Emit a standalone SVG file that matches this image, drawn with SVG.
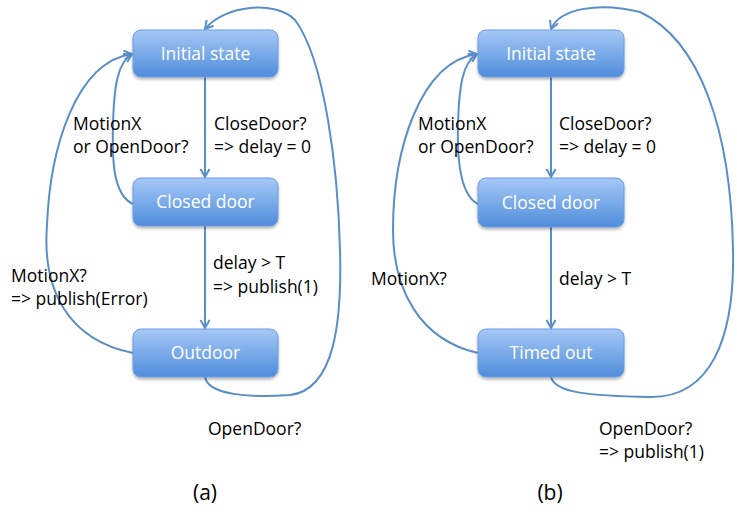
<svg xmlns="http://www.w3.org/2000/svg" width="737" height="532" viewBox="0 0 737 532">
<style>
.box{fill:url(#g);stroke:#6d9de0;stroke-width:1;filter:url(#sh)}
.bt{font-family:"Open Sans","Liberation Sans",sans-serif;font-size:17.5px;fill:#ffffff;text-anchor:middle}
.lb{font-family:"Open Sans","Liberation Sans",sans-serif;font-size:17.5px;fill:#000000}
.cap{font-family:"Open Sans","Liberation Sans",sans-serif;font-size:21px;fill:#000000;text-anchor:middle}
.c{fill:none;stroke:#5a8ec8;stroke-width:2;marker-end:url(#ah)}
</style>
<defs>
<linearGradient id="g" x1="0" y1="0" x2="0" y2="1">
<stop offset="0" stop-color="#a6c8f6"/>
<stop offset="1" stop-color="#4f8ddb"/>
</linearGradient>
<filter id="sh" x="-10%" y="-10%" width="120%" height="140%">
<feDropShadow dx="0" dy="2" stdDeviation="1.5" flood-color="#000" flood-opacity="0.3"/>
</filter>
<marker id="ah" markerWidth="12" markerHeight="12" refX="9" refY="5" orient="auto" markerUnits="userSpaceOnUse">
<path d="M1,0.5 L9,5 L1,9.5" fill="none" stroke="#5a8ec8" stroke-width="2"/>
</marker>
</defs>
<g id="connectors">
<path class="c" d="M205,77 L205,177"/>
<path class="c" d="M205,226 L205,328"/>
<path class="c" d="M133,204 C113,195 112,160 113,125 C114,85 118,62 132,54"/>
<path class="c" d="M133,353 C68,340 42,290 47,225 C50,150 75,62 132,54"/>
<path class="c" d="M205,377 C208,395 250,398 290,395 C335,390 342,320 340,250 C338,170 325,60 295,20 C275,0 225,5 205,29"/>
<path class="c" d="M551,77 L551,177"/>
<path class="c" d="M551,227 L551,328"/>
<path class="c" d="M478,204 C460,195 457,160 458,125 C459,85 463,62 477,54"/>
<path class="c" d="M478,353 C420,340 393,290 393,230 C393,150 420,62 477,54"/>
<path class="c" d="M551,377 C555,393 590,396 650,397 C710,398 735,340 733,250 C731,130 700,40 640,12 C600,2 560,8 551,29"/>
</g>
<g id="initial-a"><rect class="box" x="133" y="30" width="145" height="47" rx="8"/><text class="bt" x="205.5" y="59.5">Initial state</text></g>
<g id="closed-a"><rect class="box" x="133" y="178" width="145" height="48" rx="8"/><text class="bt" x="205.5" y="208">Closed door</text></g>
<g id="outdoor-a"><rect class="box" x="133" y="329" width="145" height="48" rx="8"/><text class="bt" x="205.5" y="359">Outdoor</text></g>
<g id="initial-b"><rect class="box" x="478" y="30" width="146" height="47" rx="8"/><text class="bt" x="551" y="59.5">Initial state</text></g>
<g id="closed-b"><rect class="box" x="478" y="178" width="146" height="49" rx="8"/><text class="bt" x="551" y="208.5">Closed door</text></g>
<g id="timedout-b"><rect class="box" x="478" y="329" width="146" height="48" rx="8"/><text class="bt" x="551" y="359">Timed out</text></g>
<g id="labels">
<text class="lb" x="73" y="130">MotionX</text>
<text class="lb" x="73" y="153">or OpenDoor?</text>
<text class="lb" x="214" y="130">CloseDoor?</text>
<text class="lb" x="214" y="153">=&gt; delay = 0</text>
<text class="lb" x="213" y="269">delay &gt; T</text>
<text class="lb" x="213" y="293">=&gt; publish(1)</text>
<text class="lb" x="11" y="282">MotionX?</text>
<text class="lb" x="11" y="305">=&gt; publish(Error)</text>
<text class="lb" x="208" y="435">OpenDoor?</text>
<text class="lb" x="418" y="130">MotionX</text>
<text class="lb" x="418" y="153">or OpenDoor?</text>
<text class="lb" x="559" y="130">CloseDoor?</text>
<text class="lb" x="559" y="153">=&gt; delay = 0</text>
<text class="lb" x="559" y="285">delay &gt; T</text>
<text class="lb" x="371" y="285">MotionX?</text>
<text class="lb" x="599" y="435">OpenDoor?</text>
<text class="lb" x="599" y="458">=&gt; publish(1)</text>
<text class="cap" x="205" y="500">(a)</text>
<text class="cap" x="550" y="500">(b)</text>
</g>
</svg>
